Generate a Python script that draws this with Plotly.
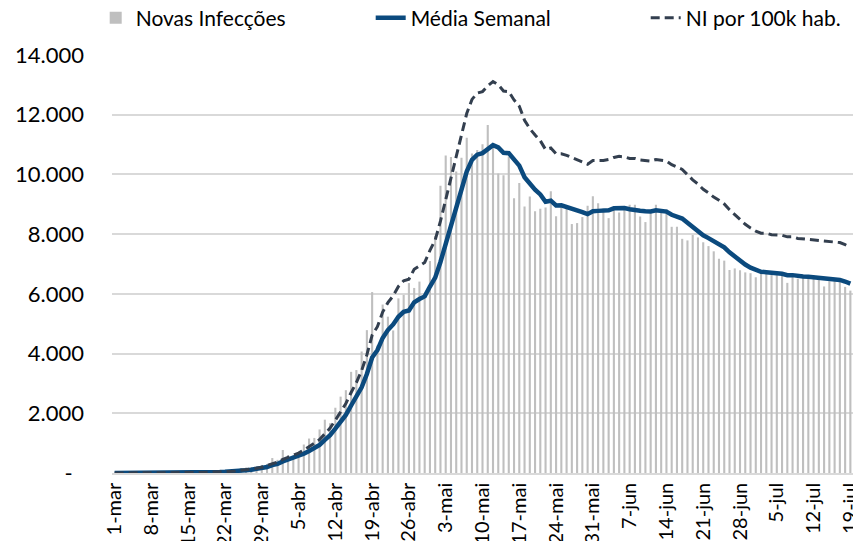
import plotly.graph_objects as go
import pandas as pd

# Daily new infections, 1-mar to 19-jul
novas = [
    0, 1, 0, 0, 1, 6, 4, 3, 0, 3, 8, 6, 11, 14, 4, 30, 21, 33, 52, 54, 53, 61, 71, 57,
    163, 182, 196, 228, 270, 302, 501,
    440, 771, 601, 582, 658, 954, 1154, 1175, 1459, 1786, 1667, 2186, 2558, 2774, 3388,
    3448, 4070, 4785, 6060, 4268, 5642, 5236, 4774, 5849, 5966, 6361, 6198, 6411, 5841, 7099,
    7933, 9623, 10633, 10581, 10102, 10559, 11231, 10699, 10817, 11012, 11656, 10899, 10028,
    9974, 10598, 9200, 9709, 8926, 9263, 8764, 8849, 8894, 9434, 8599, 8946, 8915, 8338,
    8371, 8572, 8952, 9268,
    9035, 8863, 8536, 8831, 8726, 8855, 8984, 8985, 8595, 8404, 8779, 8987, 8706, 8835,
    8246, 8248, 7843, 7790, 7972, 7889, 7728, 7600, 7425, 7176, 7113, 6800, 6852, 6791,
    6719, 6693,
    6556, 6760, 6718, 6632, 6736, 6611, 6368, 6562, 6509, 6635, 6611, 6615, 6537, 6248,
    6422, 6428, 6406, 6234, 6109,
]

# 7-day average
media = [
    0, 0, 0, 0, 0, 1, 2, 2, 2, 2, 4, 4, 5, 6, 7, 11, 13, 17, 24, 30, 35, 43, 49, 54,
    73, 92, 112, 137, 167, 200, 263,
    303, 387, 445, 495, 551, 644, 737, 842, 940, 1110, 1265, 1483, 1712, 1944, 2260,
    2544, 2870, 3316, 3869, 4113, 4523, 4787, 4976, 5231, 5399, 5442, 5718, 5828, 5914, 6246,
    6544, 7067, 7677, 8303, 8830, 9504, 10095, 10490, 10660, 10714, 10868, 10982, 10906,
    10726, 10712, 10481, 10295, 9905, 9671, 9491, 9330, 9086, 9120, 8961, 8964, 8914, 8854,
    8785, 8739, 8670, 8766,
    8779, 8771, 8800, 8865, 8887, 8873, 8833, 8826, 8787, 8769, 8761, 8798, 8777, 8756,
    8650, 8601, 8521, 8379, 8234, 8118, 7959, 7867, 7750, 7654, 7558, 7390, 7242, 7108,
    6982, 6878,
    6789, 6739, 6727, 6696, 6688, 6672, 6626, 6627, 6591, 6579, 6576, 6559, 6548, 6531,
    6511, 6499, 6467, 6413, 6341,
]

# New infections per 100k inhabitants (secondary, hidden axis)
ni_100k = [
    0.00, 0.00, 0.00, 0.00, 0.00, 0.00, 0.00, 0.00, 0.00, 0.00, 0.00, 0.00, 0.00, 0.00,
    0.00, 0.01, 0.01, 0.01, 0.02, 0.02, 0.02, 0.03, 0.03, 0.04, 0.05, 0.06, 0.08, 0.09,
    0.11, 0.14, 0.18,
    0.21, 0.26, 0.30, 0.34, 0.38, 0.44, 0.50, 0.57, 0.64, 0.76, 0.86, 1.01, 1.17, 1.33,
    1.54, 1.73, 1.96, 2.26, 2.64, 2.80, 3.08, 3.26, 3.39, 3.57, 3.68, 3.71, 3.90, 3.97,
    4.03, 4.26,
    4.46, 4.82, 5.23, 5.66, 6.02, 6.48, 6.88, 7.15, 7.27, 7.30, 7.41, 7.49, 7.43, 7.31,
    7.30, 7.14, 7.02, 6.75, 6.59, 6.47, 6.36, 6.19, 6.22, 6.11, 6.11, 6.08, 6.04, 5.99,
    5.96, 5.91, 5.98,
    5.98, 5.98, 6.00, 6.04, 6.06, 6.05, 6.02, 6.02, 5.99, 5.98, 5.97, 6.00, 5.98, 5.97,
    5.90, 5.86, 5.81, 5.71, 5.61, 5.53, 5.43, 5.36, 5.28, 5.22, 5.15, 5.04, 4.94, 4.85,
    4.76, 4.69,
    4.63, 4.59, 4.59, 4.56, 4.56, 4.55, 4.52, 4.52, 4.49, 4.48, 4.48, 4.47, 4.46, 4.45,
    4.44, 4.43, 4.41, 4.37, 4.32,
]

x_tick_labels = ["1-mar", "8-mar", "15-mar", "22-mar", "29-mar", "5-abr", "12-abr",
                 "19-abr", "26-abr", "3-mai", "10-mai", "17-mai", "24-mai", "31-mai",
                 "7-jun", "14-jun", "21-jun", "28-jun", "5-jul", "12-jul", "19-jul"]
y_tick_vals = [0, 2000, 4000, 6000, 8000, 10000, 12000, 14000]
y_tick_labels = ["-\u00a0\u00a0", "2.000", "4.000", "6.000", "8.000", "10.000", "12.000", "14.000"]

assert len(novas) == len(media) == len(ni_100k)

dates = pd.date_range("2020-03-01", periods=len(novas), freq="D")
tick_dates = dates[::7]

FONT = "Lato, 'Open Sans', sans-serif"

fig = go.Figure()
fig.add_trace(go.Bar(x=dates, y=novas, name="Novas Infecções",
                     marker=dict(color="#bfbfbf", line=dict(width=0))))
fig.add_trace(go.Scatter(x=dates, y=media, name="Média Semanal", mode="lines",
                         line=dict(color="#0b4a7e", width=4.5)))
fig.add_trace(go.Scatter(x=dates, y=ni_100k, name="NI por 100k hab.", mode="lines",
                         yaxis="y2",
                         line=dict(color="#333f4f", width=3, dash="9px,5px")))

fig.update_layout(
    width=853, height=533,
    margin=dict(l=104, r=8, t=47, b=68, autoexpand=False),
    paper_bgcolor="white", plot_bgcolor="white",
    bargap=0.6,
    font=dict(family=FONT, size=21, color="#000000"),
    showlegend=True,
    legend=dict(orientation="h", x=-0.022, xanchor="left", y=1.088, yanchor="middle",
                font=dict(family=FONT, size=21, color="#000000"),
                entrywidth=230, entrywidthmode="pixels",
                bgcolor="rgba(0,0,0,0)"),
    xaxis=dict(
        type="date",
        range=[dates[0] - pd.Timedelta(hours=12), dates[-1] + pd.Timedelta(hours=12)],
        tickmode="array", tickvals=tick_dates, ticktext=x_tick_labels,
        tickangle=-90, showgrid=False, showline=True, linecolor="#d9d9d9", linewidth=1.5,
        ticks="", ticklabeloverflow="allow",
        tickfont=dict(family=FONT, size=20, color="#000000"),
        zeroline=False,
    ),
    yaxis=dict(
        range=[0, 14000], tickmode="array", tickvals=y_tick_vals, ticktext=y_tick_labels,
        showgrid=True, gridcolor="#d9d9d9", gridwidth=1.5, zeroline=False,
        showline=False, ticks="", ticklabelstandoff=27,
        tickfont=dict(family=FONT, size=22, color="#000000"),
    ),
    yaxis2=dict(range=[0, 8], overlaying="y", side="right", visible=False,
                showgrid=False, zeroline=False),
)

fig.write_html("out.html")
